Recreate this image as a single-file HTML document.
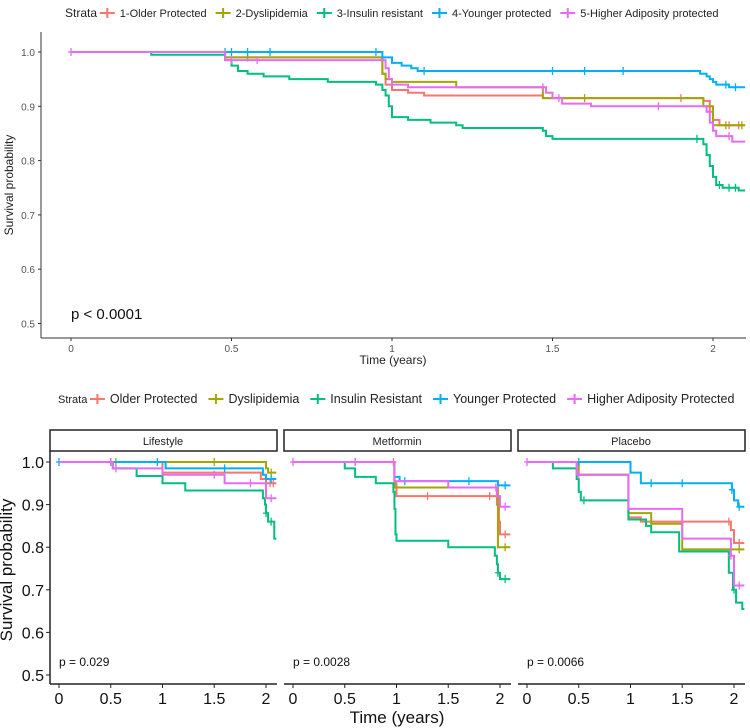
<!DOCTYPE html>
<html><head><meta charset="utf-8">
<style>
body{margin:0;background:#fff;font-family:"Liberation Sans",sans-serif;}
svg{display:block}
</style></head>
<body>
<svg id="c" width="750" height="728" xmlns="http://www.w3.org/2000/svg"></svg>
<script>
const colors=['#F8766D','#A3A500','#00BF7D','#00B0F6','#E76BF3'];
const topNames=['1-Older Protected','2-Dyslipidemia','3-Insulin resistant','4-Younger protected','5-Higher Adiposity protected'];
const botNames=['Older Protected','Dyslipidemia','Insulin Resistant','Younger Protected','Higher Adiposity Protected'];
const xTicks=[0,0.5,1,1.5,2];
const xTickLabels=['0','0.5','1','1.5','2'];
const yTicks=[0.5,0.6,0.7,0.8,0.9,1.0];
const yTickLabels=['0.5','0.6','0.7','0.8','0.9','1.0'];
const panelNames=['Lifestyle','Metformin','Placebo'];
const panelP=['p = 0.029','p = 0.0028','p = 0.0066'];
// top chart: [time, survival] steps
const topOlder=[[0,1],[0.48,0.99],[0.97,0.96],[0.98,0.94],[1.0,0.93],[1.05,0.925],[1.1,0.92],[1.47,0.915],[1.97,0.91],[1.99,0.89],[2.0,0.875],[2.02,0.865],[2.1,0.865]];
const topDys=[[0,1],[0.48,0.99],[0.97,0.96],[0.98,0.95],[1.0,0.945],[1.2,0.935],[1.47,0.915],[1.97,0.9],[2.0,0.865],[2.1,0.865]];
const topIns=[[0,1],[0.25,0.995],[0.48,0.985],[0.5,0.975],[0.52,0.965],[0.55,0.96],[0.6,0.955],[0.68,0.95],[0.8,0.945],[0.95,0.94],[0.97,0.93],[0.98,0.92],[0.99,0.9],[1.0,0.88],[1.05,0.875],[1.12,0.87],[1.2,0.865],[1.22,0.86],[1.47,0.855],[1.48,0.845],[1.5,0.84],[1.97,0.83],[1.98,0.81],[1.99,0.79],[2.0,0.77],[2.01,0.755],[2.03,0.75],[2.08,0.745],[2.1,0.745]];
const topYoung=[[0,1],[0.97,0.99],[1.0,0.98],[1.03,0.975],[1.06,0.97],[1.08,0.965],[1.96,0.96],[1.98,0.955],[1.99,0.95],[2.0,0.945],[2.01,0.94],[2.05,0.935],[2.1,0.935]];
const topHigh=[[0,1],[0.48,0.985],[0.98,0.97],[0.99,0.95],[1.0,0.94],[1.05,0.935],[1.48,0.925],[1.5,0.915],[1.53,0.905],[1.62,0.9],[1.98,0.89],[1.99,0.87],[2.0,0.855],[2.01,0.845],[2.06,0.835],[2.1,0.835]];
const topCensor=[[0.55,1.9,2.05,2.08],[0.55,1.6,2.04,2.09],[1.95,2.02,2.05,2.07],[0.48,0.5,0.55,0.62,0.95,1.1,1.5,1.6,1.72,2.04,2.07],[0,0.5,0.58,1.47,1.52,1.83,2.05]];
// bottom panels
const lifeOlder=[[0,1],[1.0,0.975],[1.95,0.96],[2.0,0.95],[2.1,0.95]];
const lifeDys=[[0,1],[2.0,0.985],[2.02,0.975],[2.1,0.975]];
const lifeIns=[[0,1],[0.52,0.985],[0.75,0.967],[1.0,0.95],[1.22,0.933],[1.97,0.915],[1.99,0.9],[2.0,0.88],[2.02,0.86],[2.08,0.82],[2.1,0.82]];
const lifeYoung=[[0,1],[1.03,0.985],[1.97,0.97],[2.0,0.96],[2.1,0.96]];
const lifeHigh=[[0,1],[0.52,0.985],[1.0,0.97],[1.6,0.95],[2.0,0.915],[2.1,0.915]];
const metOlder=[[0,1],[0.98,0.95],[1.0,0.92],[1.97,0.9],[1.99,0.86],[2.0,0.83],[2.1,0.83]];
const metDys=[[0,1],[0.98,0.94],[1.98,0.8],[2.1,0.8]];
const metIns=[[0,1],[0.5,0.985],[0.6,0.965],[0.8,0.95],[0.97,0.93],[0.98,0.89],[0.99,0.83],[1.0,0.815],[1.5,0.8],[1.95,0.78],[1.97,0.76],[1.98,0.74],[2.0,0.725],[2.1,0.725]];
const metYoung=[[0,1],[0.98,0.965],[1.03,0.955],[1.98,0.945],[2.1,0.945]];
const metHigh=[[0,1],[0.98,0.955],[1.5,0.94],[1.97,0.92],[2.0,0.895],[2.1,0.895]];
const plaOlder=[[0,1],[0.48,0.97],[0.98,0.87],[1.1,0.86],[1.97,0.84],[2.0,0.81],[2.1,0.81]];
const plaDys=[[0,1],[0.5,0.97],[0.98,0.88],[1.2,0.855],[1.5,0.795],[2.1,0.795]];
const plaIns=[[0,1],[0.25,0.985],[0.48,0.96],[0.5,0.93],[0.52,0.91],[0.98,0.865],[1.15,0.85],[1.2,0.835],[1.47,0.79],[1.95,0.74],[1.99,0.7],[2.02,0.67],[2.08,0.655],[2.1,0.655]];
const plaYoung=[[0,1],[1.0,0.975],[1.1,0.95],[1.98,0.935],[2.0,0.91],[2.04,0.895],[2.1,0.895]];
const plaHigh=[[0,1],[0.48,0.97],[0.98,0.89],[1.5,0.82],[1.97,0.78],[2.0,0.71],[2.1,0.71]];
const panels=[[lifeOlder,lifeDys,lifeIns,lifeYoung,lifeHigh],[metOlder,metDys,metIns,metYoung,metHigh],[plaOlder,plaDys,plaIns,plaYoung,plaHigh]];
const panelCensor=[[[2.04,2.07],[0.55,1.5,2.05],[2.0,2.05],[0,0.5,0.95,1.6,2.05],[0.5,0.55,1.5,1.85,2.05]],
 [[0.97,1.3,1.9,2.05],[2.05],[1.98,2.05],[0.6,1.08,1.7,2.05],[0,0.6,1.96,2.05]],
 [[1.95,2.05],[2.05],[0.55,2.0],[0.5,1.2,1.5,1.98,2.05],[0,0.5,1.97,2.05]]];

const svg=document.getElementById('c');
const NS='http://www.w3.org/2000/svg';
function mk(tag,attrs,parent){const e=document.createElementNS(NS,tag);for(const k in attrs)e.setAttribute(k,attrs[k]);(parent||svg).appendChild(e);return e;}
function txt(s,x,y,size,fill,anchor,parent){const t=mk('text',{x:x,y:y,'font-size':size,fill:fill,'text-anchor':anchor||'start','font-family':'Liberation Sans, sans-serif'},parent);t.textContent=s;return t;}
function stepAt(steps,t){let v=steps[0][1];for(const p of steps){if(p[0]<=t)v=p[1];}return v;}
function drawSurv(g,steps,col,X,Y,censor){
  let d='M'+X(steps[0][0])+','+Y(steps[0][1]);
  for(let i=1;i<steps.length;i++){d+=' H'+X(steps[i][0])+' V'+Y(steps[i][1]);}
  const p=mk('path',{d:d,fill:'none',stroke:col,'stroke-width':2},g);
  
  
  for(const c of censor){const x=X(c),y=Y(stepAt(steps,c));
    const m=mk('path',{d:`M${x-3},${y}H${x+3}M${x},${y-4}V${y+4}`,stroke:col,'stroke-width':1.3},g);
    
    }
}
function legend(y,names,size,startX,gap,stSize){
  const g=mk('g',{});
  
  
  txt('Strata',startX,y+4,stSize,'#222','start',g);
  let x=startX+stSize*2.9;
  names.forEach((n,i)=>{
    const e=mk('g',{},g);
    
    
    mk('path',{d:`M${x},${y}H${x+15}M${x+7.5},${y-5}V${y+5}`,stroke:colors[i],'stroke-width':2},e);
    const t=txt(n,x+20,y+4,size,'#222','start',e);
    x+=20+t.getComputedTextLength()+gap;
  });
}
// ---------- top chart ----------
{
const X=t=>71+t*321, Y=s=>52+(1-s)*543;
const g=mk('g',{});
legend(13,topNames,11,65,9,12);
mk('line',{x1:41,y1:32,x2:41,y2:338,stroke:'#333','stroke-width':1},g);
mk('line',{x1:41,y1:338,x2:746,y2:338,stroke:'#333','stroke-width':1},g);
yTicks.forEach((v,i)=>{mk('line',{x1:38,x2:41,y1:Y(v),y2:Y(v),stroke:'#333'},g);txt(yTickLabels[i],35,Y(v)+4,10,'#555','end',g);});
xTicks.forEach((v,i)=>{mk('line',{x1:X(v),x2:X(v),y1:338,y2:341,stroke:'#333'},g);txt(xTickLabels[i],X(v),352,10,'#555','middle',g);});
const yl=txt('Survival probability',0,0,12,'#222','middle',g);yl.setAttribute('transform','translate(13,185) rotate(-90)');
const xl=txt('Time (years)',393,364,12,'#222','middle',g);
txt('p < 0.0001',71,319,15,'#111','start',g);
[topOlder,topDys,topIns,topYoung,topHigh].forEach((s,i)=>drawSurv(g,s,colors[i],X,Y,topCensor[i]));
}
// ---------- bottom panels ----------
{
legend(399,botNames,12.5,58,11,11);
const Y=s=>462+(1-s)*426;
const lefts=[50,284,518];
lefts.forEach((L,pi)=>{
  const X=t=>L+9+t*103.5;
  const g=mk('g',{});
  const R=L+227;
  mk('rect',{x:L,y:430,width:227,height:21,fill:'#fff',stroke:'#222','stroke-width':1.5},g);
  txt(panelNames[pi],L+113,445,11,'#222','middle',g);
  mk('line',{x1:L,y1:684,x2:R,y2:684,stroke:'#222','stroke-width':1.5},g);
  if(pi==0){mk('line',{x1:L,y1:451,x2:L,y2:684,stroke:'#222','stroke-width':1.5},g);
    yTicks.forEach((v,i)=>{mk('line',{x1:L-4,x2:L,y1:Y(v),y2:Y(v),stroke:'#222'},g);txt(yTickLabels[i],L-6,Y(v)+6,16,'#111','end',g);});}
  xTicks.forEach((v,i)=>{mk('line',{x1:X(v),x2:X(v),y1:684,y2:688,stroke:'#222'},g);txt(xTickLabels[i],X(v),704,16,'#111','middle',g);});
  txt(panelP[pi],L+9,666,12,'#111','start',g);
  panels[pi].forEach((s,i)=>drawSurv(g,s,colors[i],X,Y,panelCensor[pi][i]));
});
const yl=txt('Survival probability',0,0,17,'#111','middle');yl.setAttribute('transform','translate(12,570) rotate(-90)');
const xl=txt('Time (years)',397,723,17,'#111','middle');
}
</script>
</body></html>
